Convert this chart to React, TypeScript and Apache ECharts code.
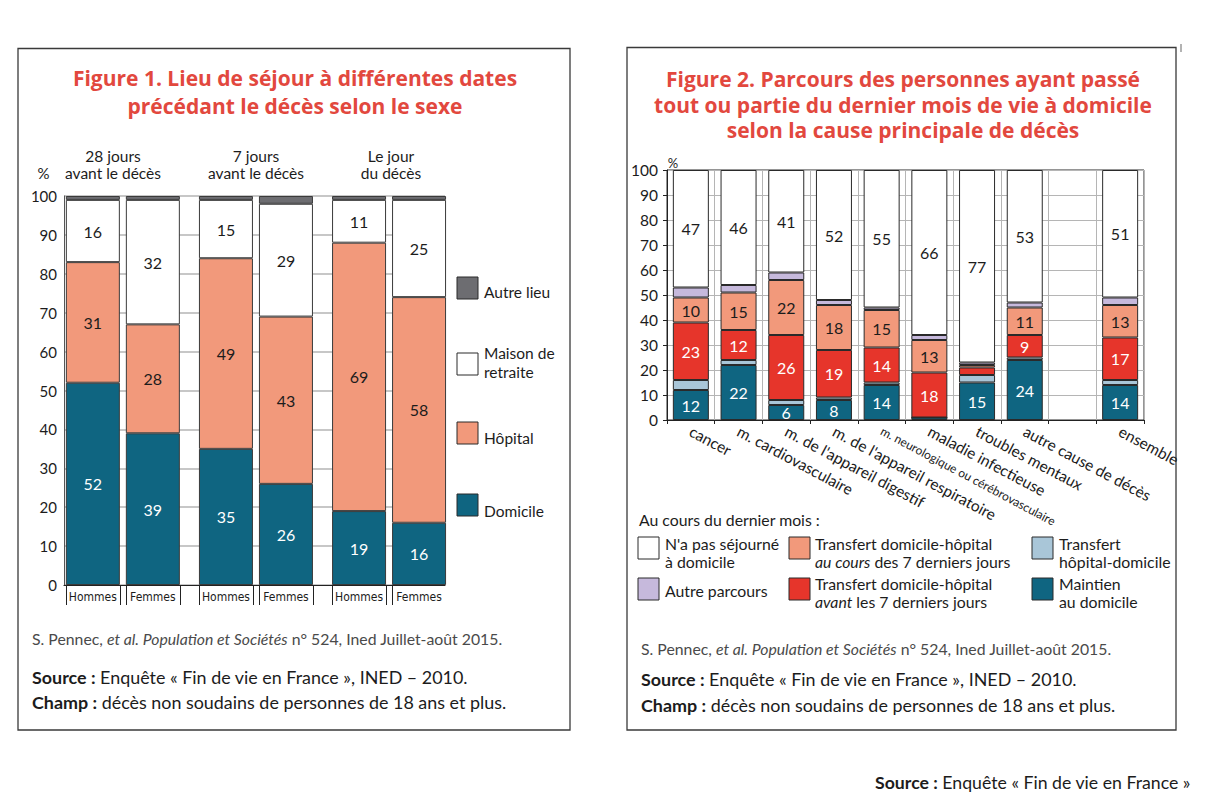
import React, { useEffect, useRef } from "react";
import * as echarts from "echarts";

// ---------- Figure 1 data ----------
const groupLabels1 = ["28 jours\navant le décès", "7 jours\navant le décès", "Le jour\ndu décès"];
const sexLabels1 = ["Hommes", "Femmes"];
// order: Hommes 28j, Femmes 28j, Hommes 7j, Femmes 7j, Hommes jour J, Femmes jour J
const domicile1 = [52, 39, 35, 26, 19, 16];
const hopital1 = [31, 28, 49, 43, 69, 58];
const maison1 = [16, 32, 15, 29, 11, 25];
const autreLieu1 = [1, 1, 1, 2, 1, 1];
const legend1 = ["Autre lieu", "Maison de\nretraite", "Hôpital", "Domicile"];

// ---------- Figure 2 data ----------
const causes2 = [
  "cancer",
  "m. cardiovasculaire",
  "m. de l'appareil digestif",
  "m. de l'appareil respiratoire",
  "m. neurologique ou cérébrovasculaire",
  "maladie infectieuse",
  "troubles mentaux",
  "autre cause de décès",
  "",
  "ensemble",
];
const maintien2 = [12, 22, 6, 8, 14, 1, 15, 24, null, 14];
const hopDom2 = [4, 2, 2, 1, 1, 0, 3, 1, null, 2];
const avant2 = [23, 12, 26, 19, 14, 18, 3, 9, null, 17];
const auCours2 = [10, 15, 22, 18, 15, 13, 1, 11, null, 13];
const autreParcours2 = [4, 3, 3, 2, 1, 2, 1, 2, null, 3];
const pasDomicile2 = [47, 46, 41, 52, 55, 66, 77, 53, null, 51];

// ---------- styles ----------
const FONT = "Lato, 'Open Sans', sans-serif";
const TFONT = "'Open Sans', Lato, sans-serif";
const NARROW = "'Liberation Sans Narrow', 'DejaVu Sans Condensed', sans-serif";
const TEAL = "#0f6581";
const SALMON = "#f2997b";
const RED = "#e6352b";
const LIGHTBLUE = "#a9c6d8";
const LAVENDER = "#c6b9dc";
const GRAY = "#6d6d71";
const TITLE_RED = "#e2483e";
const DARK = "#1c1c1c";
const GRID = "#b5b5b5";

// figure 1 layout (px)
const G1_LEFT = 64;
const G1_WIDTH = 381;
const G1_TOP = 196;
const G1_HEIGHT = 389;
const BAR_W = 54;
const BAR_PITCH = 60; // Hommes -> Femmes
const SLOT = 133.1; // group pitch
const FIRST_CENTER = 92.85;
// value-axis units (1 unit = BAR_PITCH px) for labels / edge ticks
const X1_MIN = -(FIRST_CENTER - G1_LEFT) / BAR_PITCH;
const X1_MAX = X1_MIN + G1_WIDTH / BAR_PITCH;
const pos1 = domicile1.map((_, i) => Math.floor(i / 2) * (SLOT / BAR_PITCH) + (i % 2));
const halfBar = BAR_W / 2 / BAR_PITCH;
const edges1 = pos1.flatMap((p) => [p - halfBar, p + halfBar]);
const GA_LEFT = FIRST_CENTER + BAR_PITCH / 2 - SLOT / 2;

function bar1(name: string, values: number[], sex: number, color: string, labelColor?: string) {
  return {
    type: "bar",
    name,
    stack: sex === 0 ? "H" : "F",
    xAxisIndex: 2,
    yAxisIndex: 2,
    barWidth: BAR_W,
    barGap: `${((BAR_PITCH - BAR_W) / BAR_W) * 100}%`,
    data: groupLabels1.map((_, g) => values[g * 2 + sex]),
    itemStyle: { color, borderColor: "#3a3a3a", borderWidth: 1 },
    label: labelColor
      ? { show: true, position: "inside", color: labelColor, fontSize: 16, fontFamily: FONT }
      : { show: false },
  };
}

function bar2(name: string, values: (number | null)[], color: string, labelColor?: string) {
  return {
    type: "bar",
    name,
    stack: "f2",
    xAxisIndex: 1,
    yAxisIndex: 1,
    barWidth: 36,
    data: values.map((v) => (v == null ? "-" : v)),
    itemStyle: { color, borderColor: "#2a2a2a", borderWidth: 1 },
    label: labelColor
      ? {
          show: true,
          position: "inside",
          color: labelColor,
          fontSize: 16,
          fontFamily: FONT,
          formatter: (p: any) => (typeof p.value === "number" && p.value >= 5 ? String(p.value) : ""),
        }
      : { show: false },
  };
}

function txt(x: number, y: number, text: string, o: any = {}) {
  const style: any = {
    text,
    fontSize: o.size ?? 15,
    fontFamily: o.family ?? FONT,
    fontWeight: o.weight ?? "normal",
    fontStyle: o.style ?? "normal",
    fill: o.color ?? DARK,
    align: o.align ?? "left",
    verticalAlign: o.valign ?? "middle",
    textAlign: o.align ?? "left",
    textVerticalAlign: o.valign ?? "middle",
  };
  if (o.lineHeight) style.lineHeight = o.lineHeight;
  if (o.rich) style.rich = o.rich;
  return { type: "text", x, y, silent: true, z: 20, style };
}

function box(x: number, y: number, w: number, h: number, fill: string) {
  return {
    type: "rect",
    shape: { x, y, width: w, height: h },
    style: { fill, stroke: "#2a2a2a", lineWidth: 1 },
    silent: true,
    z: 20,
  };
}

function richBase(size: number, color: string) {
  return {
    b: { fontWeight: "bold", fontSize: size, fontFamily: FONT, fill: color, color },
    i: { fontStyle: "italic", fontSize: size, fontFamily: FONT, fill: color, color },
    n: { fontSize: size, fontFamily: FONT, fill: color, color },
  };
}

function buildOption() {
  const graphics: any[] = [];
  // frames
  graphics.push({
    type: "rect",
    shape: { x: 18, y: 48.5, width: 552, height: 681.5 },
    style: { fill: "none", stroke: "#3a3a3a", lineWidth: 1.3 },
    silent: true,
  });
  graphics.push({
    type: "rect",
    shape: { x: 627, y: 47.5, width: 549, height: 682.5 },
    style: { fill: "none", stroke: "#3a3a3a", lineWidth: 1.3 },
    silent: true,
  });
  graphics.push({
    type: "line",
    shape: { x1: 1181, y1: 44, x2: 1181, y2: 52 },
    style: { stroke: "#9a9a9a", lineWidth: 1.5 },
    silent: true,
  });

  // titles
  graphics.push(
    txt(295, 92, "Figure 1. Lieu de séjour à différentes dates\nprécédant le décès selon le sexe", {
      size: 21,
      weight: "bold",
      color: TITLE_RED,
      align: "center",
      family: TFONT,
      lineHeight: 28,
    })
  );
  graphics.push(
    txt(
      903,
      104.5,
      "Figure 2. Parcours des personnes ayant passé\ntout ou partie du dernier mois de vie à domicile\nselon la cause principale de décès",
      { size: 21, weight: "bold", color: TITLE_RED, align: "center", family: TFONT, lineHeight: 25.5 }
    )
  );

  // figure 1 header labels
  graphics.push(txt(43.5, 173, "%", { size: 15, align: "center" }));
  const groupX = [113, 256, 391];
  groupLabels1.forEach((g, k) => {
    graphics.push(txt(groupX[k], 164.5, g, { size: 15.5, align: "center", lineHeight: 17 }));
  });

  // figure 1 legend
  const lg1 = [
    { y: 277, fill: GRAY, ty: 292 },
    { y: 353, fill: "#ffffff", ty: 362 },
    { y: 422, fill: SALMON, ty: 438 },
    { y: 494, fill: TEAL, ty: 510.5 },
  ];
  lg1.forEach((l, k) => {
    graphics.push(box(457, l.y, 21, 22, l.fill));
    graphics.push(txt(484, l.ty, legend1[k], { size: 15.5, lineHeight: 19 }));
  });

  // figure 1 notes
  const rP = richBase(15.8, "#4a4a4a");
  const rS = richBase(17.9, DARK);
  graphics.push(txt(32, 638, "{n|S. Pennec, }{i|et al. Population et Sociétés}{n| n° 524, Ined Juillet-août 2015.}", { size: 15.8, color: "#4a4a4a", rich: rP }));
  graphics.push(txt(32, 677, "{b|Source :}{n| Enquête « Fin de vie en France », INED – 2010.}", { size: 17.9, rich: rS }));
  graphics.push(txt(32, 702, "{b|Champ :}{n| décès non soudains de personnes de 18 ans et plus.}", { size: 17.9, rich: rS }));

  // figure 2 header
  graphics.push(txt(673, 163, "%", { size: 13, align: "center" }));

  // figure 2 legend
  graphics.push(txt(639, 519.5, "Au cours du dernier mois :", { size: 15.8 }));
  const r15 = richBase(15.8, DARK);
  const lg2 = [
    { bx: 638, by: 537, fill: "#ffffff", tx: 665, ty: 552, text: "{n|N'a pas séjourné}\n{n|à domicile}" },
    { bx: 789, by: 537, fill: SALMON, tx: 815, ty: 552, text: "{n|Transfert domicile-hôpital}\n{i|au cours}{n| des 7 derniers jours}" },
    { bx: 1032, by: 537, fill: LIGHTBLUE, tx: 1059, ty: 552, text: "{n|Transfert}\n{n|hôpital-domicile}" },
    { bx: 638, by: 578, fill: LAVENDER, tx: 665, ty: 590.5, text: "{n|Autre parcours}" },
    { bx: 789, by: 578, fill: RED, tx: 815, ty: 592, text: "{n|Transfert domicile-hôpital}\n{i|avant}{n| les 7 derniers jours}" },
    { bx: 1032, by: 578, fill: TEAL, tx: 1059, ty: 592, text: "{n|Maintien}\n{n|au domicile}" },
  ];
  lg2.forEach((l) => {
    graphics.push(box(l.bx, l.by, 21, 22, l.fill));
    graphics.push(txt(l.tx, l.ty, l.text, { size: 15.8, rich: r15, lineHeight: 18 }));
  });

  // figure 2 notes
  graphics.push(txt(641, 648, "{n|S. Pennec, }{i|et al. Population et Sociétés}{n| n° 524, Ined Juillet-août 2015.}", { size: 15.8, color: "#4a4a4a", rich: rP }));
  graphics.push(txt(641, 679, "{b|Source :}{n| Enquête « Fin de vie en France », INED – 2010.}", { size: 17.9, rich: rS }));
  graphics.push(txt(641, 705, "{b|Champ :}{n| décès non soudains de personnes de 18 ans et plus.}", { size: 17.9, rich: rS }));

  // page source
  graphics.push(txt(875, 782, "{b|Source :}{n| Enquête « Fin de vie en France »}", { size: 17.7, rich: richBase(17.7, DARK) }));

  return {
    animation: false,
    backgroundColor: "#ffffff",
    textStyle: { fontFamily: FONT },
    grid: [
      { left: G1_LEFT, top: G1_TOP, width: G1_WIDTH, height: G1_HEIGHT },
      {
        left: 667,
        top: 170,
        width: 477,
        height: 250,
        show: true,
        borderColor: "#2a2a2a",
        borderWidth: 1,
        backgroundColor: "rgba(0,0,0,0)",
      },
      { left: GA_LEFT, top: G1_TOP, width: SLOT * groupLabels1.length, height: G1_HEIGHT },
    ],
    xAxis: [
      {
        type: "value",
        gridIndex: 0,
        min: X1_MIN,
        max: X1_MAX,
        splitLine: { show: false },
        axisLine: { show: true, onZero: false, lineStyle: { color: "#222", width: 1.2 } },
        axisTick: {
          show: true,
          customValues: edges1,
          length: 20,
          lineStyle: { color: "#222", width: 1 },
        },
        axisLabel: {
          show: true,
          customValues: pos1,
          margin: 6,
          fontSize: 12,
          fontFamily: NARROW,
          color: DARK,
          formatter: (v: number) => {
            const i = pos1.findIndex((p) => Math.abs(p - v) < 1e-3);
            return i >= 0 ? sexLabels1[i % 2] : "";
          },
        },
      },
      {
        type: "category",
        gridIndex: 1,
        data: causes2,
        boundaryGap: true,
        axisLine: { show: true, lineStyle: { color: "#222", width: 1 } },
        axisTick: { show: true, length: 4, interval: 0, lineStyle: { color: "#222" } },
        splitLine: { show: true, interval: 0, lineStyle: { color: GRID, width: 1 } },
        axisLabel: {
          interval: 0,
          rotate: -28,
          margin: 10,
          fontSize: 15.5,
          fontFamily: FONT,
          color: DARK,
          formatter: (v: string, i: number) => (i === 4 ? `{s|${v}}` : v),
          rich: { s: { fontSize: 12, fontFamily: FONT, color: DARK } },
        },
      },
      {
        type: "category",
        gridIndex: 2,
        data: groupLabels1,
        boundaryGap: true,
        axisLine: { show: false },
        axisTick: { show: false },
        axisLabel: { show: false },
        splitLine: { show: false },
      },
    ],
    yAxis: [
      {
        type: "value",
        gridIndex: 0,
        min: 0,
        max: 100,
        interval: 10,
        axisLine: { show: true, onZero: false, lineStyle: { color: "#555", width: 1 } },
        axisTick: { show: false },
        splitLine: { show: true, lineStyle: { color: GRID, width: 1.5 } },
        axisLabel: { fontSize: 15, color: DARK, margin: 7, fontFamily: FONT },
      },
      {
        type: "value",
        gridIndex: 1,
        min: 0,
        max: 100,
        interval: 10,
        axisLine: { show: true, lineStyle: { color: "#222", width: 1 } },
        axisTick: { show: true, length: 4, lineStyle: { color: "#222" } },
        splitLine: { show: true, lineStyle: { color: GRID, width: 1 } },
        axisLabel: { fontSize: 15.5, color: DARK, margin: 9, fontFamily: FONT },
      },
      {
        type: "value",
        gridIndex: 2,
        min: 0,
        max: 100,
        show: false,
        splitLine: { show: false },
      },
    ],
    series: [
      bar1("Domicile", domicile1, 0, TEAL, "#ffffff"),
      bar1("Hôpital", hopital1, 0, SALMON, DARK),
      bar1("Maison de retraite", maison1, 0, "#ffffff", DARK),
      bar1("Autre lieu", autreLieu1, 0, GRAY),
      bar1("Domicile", domicile1, 1, TEAL, "#ffffff"),
      bar1("Hôpital", hopital1, 1, SALMON, DARK),
      bar1("Maison de retraite", maison1, 1, "#ffffff", DARK),
      bar1("Autre lieu", autreLieu1, 1, GRAY),
      bar2("Maintien au domicile", maintien2, TEAL, "#ffffff"),
      bar2("Transfert hôpital-domicile", hopDom2, LIGHTBLUE),
      bar2("Transfert domicile-hôpital avant les 7 derniers jours", avant2, RED, "#ffffff"),
      bar2("Transfert domicile-hôpital au cours des 7 derniers jours", auCours2, SALMON, DARK),
      bar2("Autre parcours", autreParcours2, LAVENDER),
      bar2("N'a pas séjourné à domicile", pasDomicile2, "#ffffff", DARK),
    ],
    graphic: graphics,
  };
}

export default function App() {
  const ref = useRef<HTMLDivElement>(null);
  useEffect(() => {
    document.body.style.margin = "0";
    const chart = echarts.init(ref.current as HTMLDivElement, null, { renderer: "svg" });
    chart.setOption(buildOption() as any);
    return () => chart.dispose();
  }, []);
  return <div ref={ref} style={{ width: 1205, height: 800, background: "#ffffff" }} />;
}
